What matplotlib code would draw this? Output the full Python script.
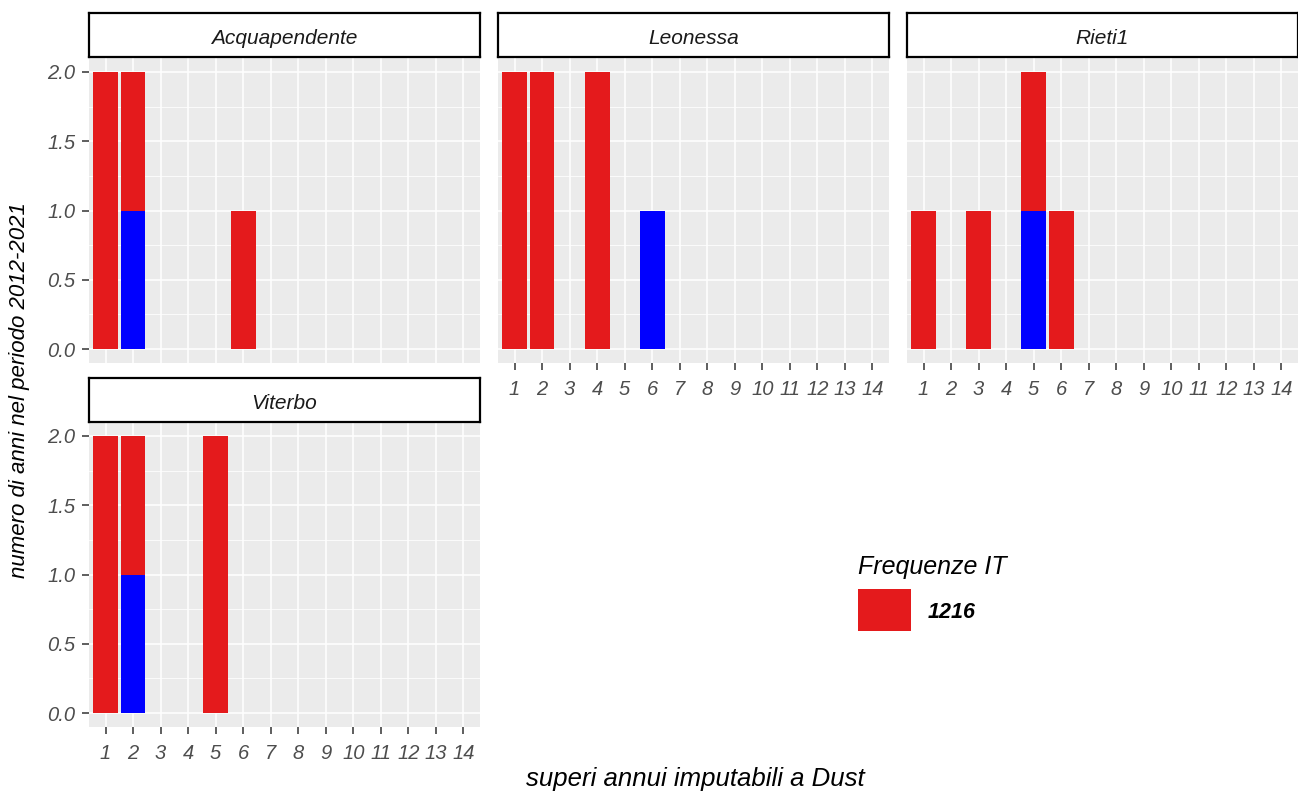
import matplotlib
matplotlib.use("Agg")
import matplotlib.pyplot as plt
from matplotlib.patches import Rectangle
import numpy as np

# ---- data -------------------------------------------------------------
categories = list(range(1, 15))
stations = ["Acquapendente", "Leonessa", "Rieti1", "Viterbo"]

# counts of years (1216 frequency class, red) per number of exceedances
red_acquapendente = [2, 1, 0, 0, 0, 1, 0, 0, 0, 0, 0, 0, 0, 0]
red_leonessa      = [2, 2, 0, 2, 0, 0, 0, 0, 0, 0, 0, 0, 0, 0]
red_rieti1        = [1, 0, 1, 0, 1, 1, 0, 0, 0, 0, 0, 0, 0, 0]
red_viterbo       = [2, 1, 0, 0, 2, 0, 0, 0, 0, 0, 0, 0, 0, 0]

# additional years shown in blue, stacked underneath
blue_acquapendente = [0, 1, 0, 0, 0, 0, 0, 0, 0, 0, 0, 0, 0, 0]
blue_leonessa      = [0, 0, 0, 0, 0, 1, 0, 0, 0, 0, 0, 0, 0, 0]
blue_rieti1        = [0, 0, 0, 0, 1, 0, 0, 0, 0, 0, 0, 0, 0, 0]
blue_viterbo       = [0, 1, 0, 0, 0, 0, 0, 0, 0, 0, 0, 0, 0, 0]

y_ticks = [0.0, 0.5, 1.0, 1.5, 2.0]
legend_title = "Frequenze IT"
legend_label = "1216"
x_title = "superi annui imputabili a Dust"
y_title = "numero di anni nel periodo 2012-2021"

red_series = [red_acquapendente, red_leonessa, red_rieti1, red_viterbo]
blue_series = [blue_acquapendente, blue_leonessa, blue_rieti1, blue_viterbo]

# ---- style ------------------------------------------------------------
plt.rcParams["font.family"] = ["Liberation Sans", "DejaVu Sans"]
RED = "#E41A1C"
BLUE = "#0000FF"
PANEL_BG = "#EBEBEB"
TICK_TXT = "#4D4D4D"
TICK_LINE = "#333333"

W, H = 1298, 791
fig = plt.figure(figsize=(W / 100, H / 100), dpi=100)
fig.patch.set_facecolor("white")


def add_box(x0, ytop, w, h):
    return fig.add_axes([x0 / W, 1 - (ytop + h) / H, w / W, h / H])


col_left = [89, 498, 907]
col_w = 391
row_panel_top = [58, 422]
panel_h = 305
row_strip_top = [13, 378]
strip_h = 44

# (row, col, show x labels, show y labels)
layout = [(0, 0, False, True), (0, 1, True, False), (0, 2, True, False), (1, 0, True, True)]

x = np.array(categories)
for i, (r, c, showx, showy) in enumerate(layout):
    ax = add_box(col_left[c], row_panel_top[r], col_w, panel_h)
    ax.set_facecolor(PANEL_BG)
    ax.set_axisbelow(True)
    blue = np.array(blue_series[i])
    red = np.array(red_series[i])
    ax.bar(x, blue, width=0.9, color=BLUE, linewidth=0)
    ax.bar(x, red, width=0.9, bottom=blue, color=RED, linewidth=0)

    ax.set_xlim(0.4, 14.6)
    ax.set_ylim(-0.1, 2.1)
    ax.set_xticks(x)
    ax.set_yticks(y_ticks)
    ax.set_yticks([0.25, 0.75, 1.25, 1.75], minor=True)
    ax.grid(True, which="major", color="white", linewidth=1.1)
    ax.grid(True, which="minor", axis="y", color="white", linewidth=0.55)
    for s in ax.spines.values():
        s.set_visible(False)

    ax.tick_params(axis="both", which="minor", length=0)
    ax.tick_params(axis="both", which="major", length=5, width=1.1, color=TICK_LINE,
                   labelsize=14.5, labelcolor=TICK_TXT)
    ax.tick_params(axis="x", pad=7)
    ax.tick_params(axis="y", pad=5)
    if showx:
        ax.set_xticklabels([str(v) for v in categories], fontstyle="italic")
    else:
        ax.tick_params(axis="x", length=0, labelbottom=False)
    if showy:
        ax.set_yticklabels([f"{v:.1f}" for v in y_ticks], fontstyle="italic")
    else:
        ax.tick_params(axis="y", length=0, labelleft=False)

    # facet strip
    st = add_box(col_left[c], row_strip_top[r], col_w, strip_h)
    st.set_facecolor("white")
    st.set_xticks([])
    st.set_yticks([])
    for s in st.spines.values():
        s.set_color("black")
        s.set_linewidth(1.6)
    st.text(0.5, 0.42, stations[i], ha="center", va="center", fontsize=15,
            fontstyle="italic", color="#1A1A1A", transform=st.transAxes)

# axis titles
fig.text(695 / W, 1 - 779 / H, x_title, ha="center", va="center",
         fontsize=18.5, fontstyle="italic", color="black")
fig.text(20 / W, 1 - 390 / H, y_title, ha="center", va="center", rotation=90,
         fontsize=16, fontstyle="italic", color="black")

# legend
fig.text(858 / W, 1 - 567 / H, legend_title, ha="left", va="center",
         fontsize=18, fontstyle="italic", color="black")
fig.patches.append(Rectangle((858 / W, 1 - 631 / H), 53 / W, 42 / H,
                             transform=fig.transFigure, facecolor=RED,
                             edgecolor="none"))
fig.text(928 / W, 1 - 612 / H, legend_label, ha="left", va="center",
         fontsize=15.5, fontstyle="italic", fontweight="bold", color="black")

fig.savefig("out.png", dpi=100)
